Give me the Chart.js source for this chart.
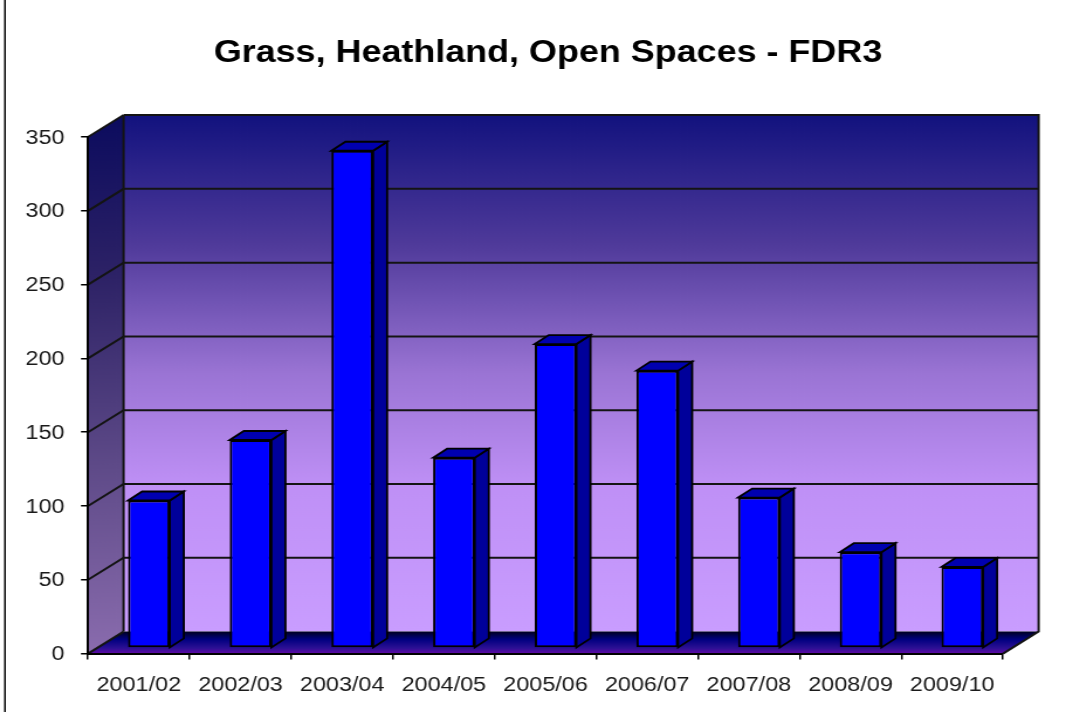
<!DOCTYPE html>
<html>
<head>
<meta charset="utf-8">
<title>Grass, Heathland, Open Spaces - FDR3</title>
<script src="https://cdn.jsdelivr.net/npm/chart.js@4/dist/chart.umd.min.js"></script>
<style>
  html, body { margin: 0; padding: 0; background: #fff; overflow: hidden; }
</style>
</head>
<body>
<!-- the reference is a picture stretched sideways, so the canvas is too -->
<canvas id="fdrChart" width="911" height="712" style="display:block;width:1066px;height:712px"></canvas>
<script>
// Data
const years = ['2001/02', '2002/03', '2003/04', '2004/05', '2005/06', '2006/07', '2007/08', '2008/09', '2009/10'];
const incidents = [100, 141, 337, 129, 206, 188, 102, 65, 55];
const chartTitle = 'Grass, Heathland, Open Spaces - FDR3';

// Depth of the fake 3D box and of the bars inside it (canvas pixels)
const WALL_DX = 30.4, WALL_DY = -22;
const BAR_SHIFT_X = 8.6, BAR_SHIFT_Y = -5.5;
const BAR_DX = 12, BAR_DY = -9;

function poly(ctx, pts, fill, stroke, lineWidth) {
    ctx.beginPath();
    pts.forEach((p, i) => i ? ctx.lineTo(p[0], p[1]) : ctx.moveTo(p[0], p[1]));
    ctx.closePath();
    if (fill) { ctx.fillStyle = fill; ctx.fill(); }
    if (stroke) { ctx.strokeStyle = stroke; ctx.lineWidth = lineWidth; ctx.stroke(); }
}

// Walls and floor go under the axes
const box3d = {
    id: 'box3d',
    afterLayout(chart) {
        // title sits a little right of the plot centre
        chart.titleBlock.left += 4.2;
    },
    beforeDraw(chart) {
        const ctx = chart.ctx, a = chart.chartArea, y = chart.scales.y;
        ctx.save();

        // stray page rule on the left of the slide
        ctx.fillStyle = '#000';
        ctx.fillRect(3.5, 0, 1.5, chart.height);

        const backL = a.left + WALL_DX, backR = a.right + WALL_DX;
        const backT = a.top + WALL_DY, backB = a.bottom + WALL_DY;

        const wall = ctx.createLinearGradient(0, backT, 0, backB);
        wall.addColorStop(0, '#12127e');
        wall.addColorStop(0.25, '#4f3a9a');
        wall.addColorStop(0.5, '#9a74d4');
        wall.addColorStop(0.72, '#bf90f6');
        wall.addColorStop(1, '#c99dff');
        poly(ctx, [[backL, backT], [backR, backT], [backR, backB], [backL, backB]], wall);

        const side = ctx.createLinearGradient(a.left, backT, backL, a.bottom);
        side.addColorStop(0, '#0b0b5e');
        side.addColorStop(0.3, '#2d2266');
        side.addColorStop(0.65, '#5e4a88');
        side.addColorStop(1, '#8a6cae');
        poly(ctx, [[a.left, a.top], [backL, backT], [backL, backB], [a.left, a.bottom]], side);

        const floor = ctx.createLinearGradient(0, backB, 0, a.bottom);
        floor.addColorStop(0, '#000020');
        floor.addColorStop(0.35, '#000080');
        floor.addColorStop(0.75, '#2c1094');
        floor.addColorStop(1, '#600aa4');
        poly(ctx, [[a.left, a.bottom], [a.right, a.bottom], [backR, backB], [backL, backB]], floor);

        // gridlines run up the side wall then along the back
        ctx.strokeStyle = '#141414';
        ctx.lineWidth = 2;
        y.ticks.forEach(t => {
            const py = y.getPixelForValue(t.value);
            if (t.value === 0) return;
            ctx.beginPath();
            ctx.moveTo(a.left, py);
            ctx.lineTo(backL, py + WALL_DY);
            if (t.value < y.max) ctx.lineTo(backR, py + WALL_DY);
            ctx.stroke();
        });

        // box edges
        ctx.beginPath();
        ctx.moveTo(backL, backB);
        ctx.lineTo(backL, backT);
        ctx.stroke();
        ctx.beginPath();
        ctx.moveTo(backL, backT);
        ctx.lineTo(backR, backT);
        ctx.lineTo(backR, backB);
        ctx.lineTo(a.right, a.bottom);
        ctx.moveTo(a.left, a.bottom);
        ctx.lineTo(backL, backB);
        ctx.stroke();
        ctx.restore();
    }
};

// Shifts the native bars back into the box and adds their side and top faces
const bars3d = {
    id: 'bars3d',
    beforeDatasetDraw(chart, args) {
        const ctx = chart.ctx;
        ctx.save();
        ctx.translate(BAR_SHIFT_X, BAR_SHIFT_Y);
        args.meta.data.forEach(bar => {
            const l = bar.x - bar.width / 2, r = bar.x + bar.width / 2;
            const t = bar.y, b = bar.base;
            poly(ctx, [[r, t], [r + BAR_DX, t + BAR_DY], [r + BAR_DX, b + BAR_DY], [r, b]], '#00009a', '#000', 1.8);
            poly(ctx, [[l, t], [l + BAR_DX, t + BAR_DY], [r + BAR_DX, t + BAR_DY], [r, t]], '#0000b0', '#000', 1.8);
        });
    },
    afterDatasetDraw(chart) {
        chart.ctx.restore();
    }
};

new Chart(document.getElementById('fdrChart').getContext('2d'), {
    type: 'bar',
    data: {
        labels: years,
        datasets: [{
            data: incidents,
            backgroundColor: '#0000ff',
            borderColor: '#000',
            borderWidth: 2,
            borderSkipped: false,
            barPercentage: 0.41,
            categoryPercentage: 1
        }]
    },
    plugins: [box3d, bars3d],
    options: {
        responsive: false,
        animation: false,
        layout: { padding: { left: 0, right: 53.8, top: 0, bottom: 0 } },
        plugins: {
            legend: { display: false },
            tooltip: { enabled: false },
            title: {
                display: true,
                text: chartTitle,
                fullSize: false,
                color: '#000',
                font: { family: '"Liberation Sans"', size: 30.7, weight: 'bold', lineHeight: 1.2 },
                padding: { top: 35.5, bottom: 64.7 }
            }
        },
        scales: {
            x: {
                grid: { drawOnChartArea: false, color: '#000', tickLength: 6, lineWidth: 1.5 },
                border: { display: true, color: '#000', width: 2 },
                ticks: {
                    color: '#1a1a1a',
                    maxRotation: 0,
                    autoSkip: false,
                    padding: 14,
                    font: { family: '"Liberation Sans"', size: 20 }
                },
                afterFit(scale) { scale.height = 58.4; }
            },
            y: {
                min: 0,
                max: 350,
                grid: { drawOnChartArea: false, color: '#000', tickLength: 6, lineWidth: 1.5 },
                border: { display: true, color: '#000', width: 2 },
                ticks: {
                    stepSize: 50,
                    color: '#1a1a1a',
                    padding: 14,
                    labelOffset: 1,
                    font: { family: '"Liberation Sans"', size: 20 }
                },
                afterFit(scale) { scale.width = 75.2; }
            }
        }
    }
});
</script>
</body>
</html>
